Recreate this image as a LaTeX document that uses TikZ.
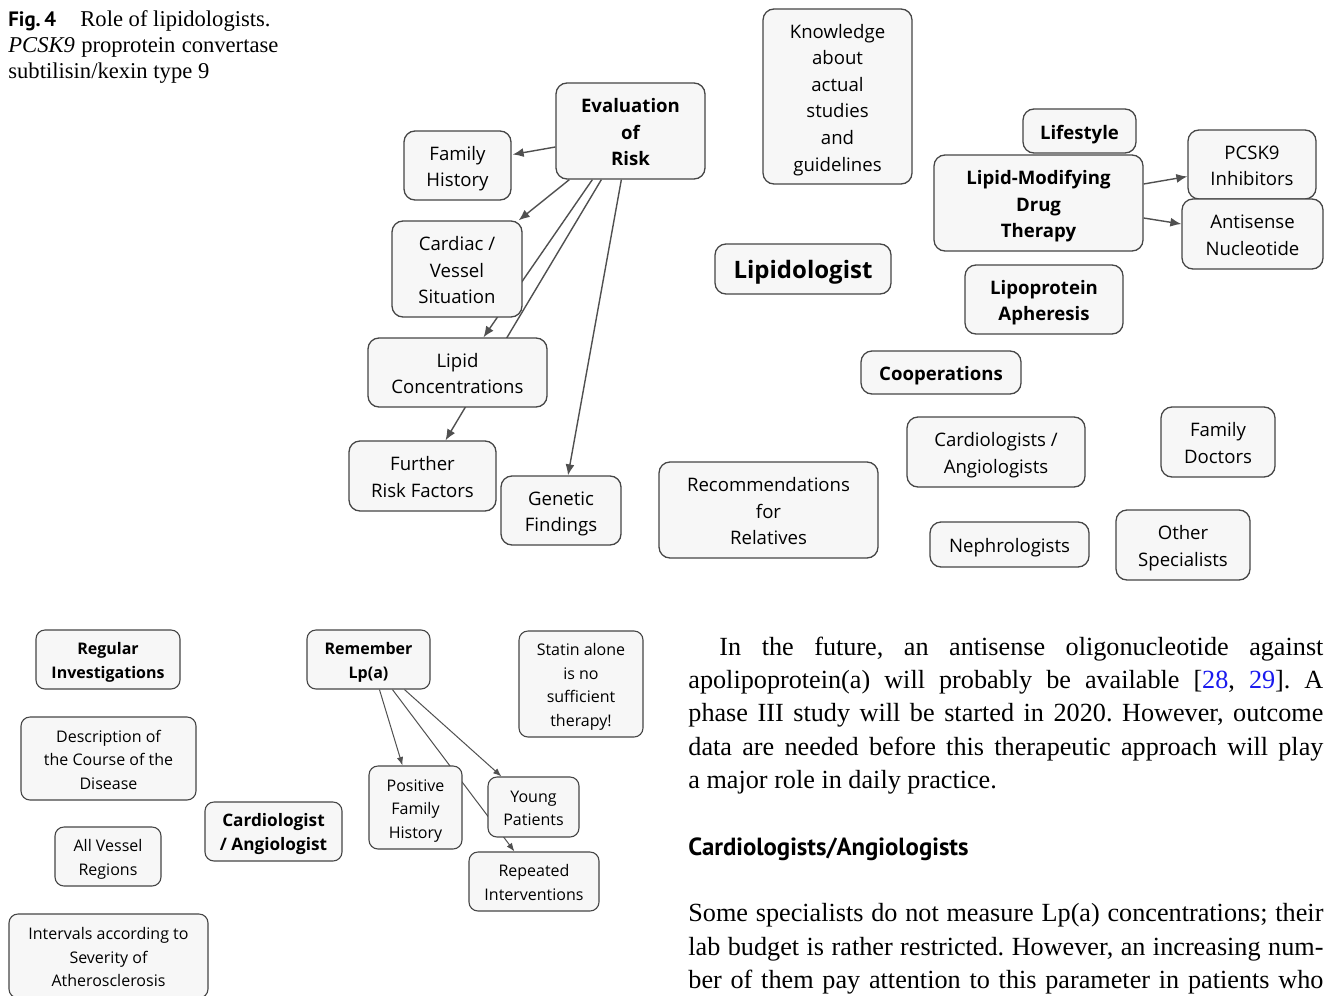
\documentclass[tikz,border=0pt]{standalone}
\usepackage{fontspec}
\setmainfont{Liberation Serif}
\newfontfamily\bxfont{Open Sans}
\newfontfamily\hdfont{PT Sans}
\usetikzlibrary{arrows.meta,backgrounds}
\definecolor{boxbg}{HTML}{F7F7F7}
\definecolor{boxbd}{HTML}{464646}
\definecolor{edgec}{HTML}{505050}
\definecolor{citeblue}{HTML}{1A1AEE}
\frenchspacing
\newcommand\bt[1]{\raisebox{-1.35pt}[\height][\depth]{\begin{tabular}{@{}c@{}}#1\end{tabular}}}
\newcommand\bs[1]{\raisebox{-1.25pt}[\height][\depth]{\begin{tabular}{@{}c@{}}#1\end{tabular}}}
\newcommand\bl[1]{\raisebox{-1.8pt}[\height][\depth]{\begin{tabular}{@{}c@{}}#1\end{tabular}}}
\tikzset{
  box/.style={draw=boxbd, fill=boxbg, rounded corners=5.5pt, line width=0.65pt,
    inner sep=0pt, font=\bxfont\fontsize{9.3}{13.3}\selectfont},
  sbox/.style={box, rounded corners=4.5pt, line width=0.55pt,
    font=\bxfont\fontsize{8}{11.75}\selectfont},
  bbox/.style={box, font=\bxfont\bfseries\fontsize{9.3}{13.3}\selectfont},
  sbbox/.style={sbox, font=\bxfont\bfseries\fontsize{8}{11.75}\selectfont},
  arr/.style={draw=edgec, line width=0.7pt, -{Latex[length=5.5pt,width=4.5pt]}},
  sarr/.style={draw=edgec, line width=0.5pt, -{Latex[length=4.2pt,width=3.2pt]}},
  bodyline/.style={anchor=base west, inner sep=0pt, font=\fontsize{13.1}{16.5}\selectfont},
  capline/.style={anchor=base west, inner sep=0pt, font=\fontsize{11.3}{13}\selectfont},
}
\begin{document}
\begin{tikzpicture}[x=0.5pt,y=-0.5pt]
\useasboundingbox (0,0) rectangle (1326,995);
\clip (0,0) rectangle (1326,995);

% caption
\node[capline] (figlab) at (8,26.5) {\hdfont\bfseries\fontsize{10.4}{13}\selectfont Fig.\,4};
\node[capline] (cap1) at (80,26.5) {Role of lipidologists.};
\node[capline] (cap2) at (8,52.5) {\makebox[135pt][s]{\textit{PCSK9} proprotein convertase}};
\node[capline] (cap3) at (8,78.5) {subtilisin/kexin type 9};

% top diagram
\node[bbox, minimum width=74.5pt, minimum height=48pt] (eval) at (630.5,131) {\bt{Evaluation\\of\\Risk}};
\node[box, minimum width=53.5pt, minimum height=34.5pt] (fh) at (457.5,165.5) {\bt{Family\\History}};
\node[box, minimum width=65pt, minimum height=48pt] (card) at (457,269) {\bt{Cardiac /\\Vessel\\Situation}};
\node[box, minimum width=89.5pt, minimum height=34.5pt] (lipid) at (457.5,372.5) {\bt{Lipid\\Concentrations}};
\node[box, minimum width=73.5pt, minimum height=35pt] (further) at (422.5,476) {\bt{Further\\Risk Factors}};
\node[box, minimum width=60pt, minimum height=34.5pt] (genetic) at (561,510.5) {\bt{Genetic\\Findings}};
\node[box, minimum width=74.5pt, minimum height=87.5pt] (know) at (837.5,96.5) {\bt{Knowledge\\about\\actual\\studies\\and\\guidelines}};
\node[box, minimum width=88pt, minimum height=25pt, font=\bxfont\bfseries\fontsize{12}{14}\selectfont] (lipidologist) at (803,269) {\bl{Lipidologist}};
\node[bbox, minimum width=56.5pt, minimum height=22pt] (lifestyle) at (1079.5,131) {\bt{Lifestyle}};
\node[bbox, minimum width=104.5pt, minimum height=48pt] (lmdt) at (1038.5,203) {\bt{Lipid-Modifying\\Drug\\Therapy}};
\node[box, minimum width=64pt, minimum height=34.5pt] (pcsk) at (1252,164.5) {\bt{PCSK9\\Inhibitors}};
\node[box, minimum width=70.5pt, minimum height=35pt] (antisense) at (1252.5,234) {\bt{Antisense\\Nucleotide}};
\node[bbox, minimum width=79pt, minimum height=34.5pt] (apheresis) at (1044,299.5) {\bt{Lipoprotein\\Apheresis}};
\node[bbox, minimum width=80pt, minimum height=21.5pt] (coop) at (941,372.5) {\bt{Cooperations}};
\node[box, minimum width=89pt, minimum height=35pt] (cardang) at (996,452) {\bt{Cardiologists /\\Angiologists}};
\node[box, minimum width=57pt, minimum height=35pt] (famdoc) at (1218,442) {\bt{Family\\Doctors}};
\node[box, minimum width=109.5pt, minimum height=48pt] (recom) at (768.5,510) {\bt{Recommendations\\for\\Relatives}};
\node[box, minimum width=79.5pt, minimum height=22.5pt] (nephro) at (1009.5,544.5) {\bt{Nephrologists}};
\node[box, minimum width=67pt, minimum height=35pt] (other) at (1183,545) {\bt{Other\\Specialists}};

% bottom diagram
\node[sbbox, minimum width=72pt, minimum height=29.5pt] (regular) at (108,659.5) {\bs{Regular\\Investigations}};
\node[sbox, minimum width=87.5pt, minimum height=41.5pt] (descr) at (108.5,758.5) {\bs{Description of\\the Course of the\\Disease}};
\node[sbox, minimum width=53pt, minimum height=29.5pt] (allvessel) at (108,856.5) {\bs{All Vessel\\Regions}};
\node[sbox, minimum width=99.5pt, minimum height=42pt] (intervals) at (108.5,956) {\bs{Intervals according to\\Severity of\\Atherosclerosis}};
\node[sbbox, minimum width=68.5pt, minimum height=29.5pt, font=\bxfont\bfseries\fontsize{8.6}{12}\selectfont] (cardio) at (273.5,831.5) {\bs{Cardiologist\\/ Angiologist}};
\node[sbbox, minimum width=61.5pt, minimum height=29.5pt] (remember) at (368.5,659.5) {\bs{Remember\\Lp(a)}};
\node[sbox, minimum width=62pt, minimum height=53pt] (statin) at (581,684) {\bs{Statin alone\\is no\\sufficient\\therapy!}};
\node[sbox, minimum width=46.5pt, minimum height=41.5pt] (pfh) at (415.5,807.5) {\bs{Positive\\Family\\History}};
\node[sbox, minimum width=45.5pt, minimum height=30pt] (young) at (533.5,807) {\bs{Young\\Patients}};
\node[sbox, minimum width=65pt, minimum height=29.5pt] (repeated) at (534,881.5) {\bs{Repeated\\Interventions}};

% connectors (behind boxes)
\begin{pgfonlayer}{background}
\fill[white] (0,0) rectangle (1326,995);
\draw[arr] ([shift={(0,16)}]eval.west) -- ([shift={(1,-11)}]fh.east);
\draw[arr] ([shift={(14,0)}]eval.south west) -- ([shift={(-4,0)}]card.north east);
\draw[arr] ([shift={(37,0)}]eval.south west) -- ([shift={(26,0)}]lipid.north);
\draw[arr] ([shift={(46,0)}]eval.south west) -- ([shift={(23,0)}]further.north);
\draw[arr] ([shift={(66,0)}]eval.south west) -- ([shift={(7,0)}]genetic.north);
\draw[arr] ([shift={(0,-19)}]lmdt.east) -- ([shift={(0,12)}]pcsk.west);
\draw[arr] ([shift={(0,15)}]lmdt.east) -- ([shift={(0,-10)}]antisense.west);
\draw[sarr] ([shift={(73,0)}]remember.south west) -- ([shift={(34,0)}]pfh.north west);
\draw[sarr] ([shift={(86,0)}]remember.south west) -- ([shift={(46,0)}]repeated.north west);
\draw[sarr] ([shift={(98,0)}]remember.south west) -- ([shift={(14,0)}]young.north west);
\end{pgfonlayer}

% body text
\node[bodyline] (b1) at (719,655.7) {\makebox[302pt][s]{In the future, an antisense oligonucleotide against}};
\node[bodyline] (b2) at (688,688.5) {\makebox[317.5pt][s]{apolipoprotein(a) will probably be available [\textcolor{citeblue}{28}, \textcolor{citeblue}{29}]. A}};
\node[bodyline] (b3) at (688,721.8) {\makebox[317.5pt][s]{phase III study will be started in 2020. However, outcome}};
\node[bodyline] (b4) at (688,755) {\makebox[317.5pt][s]{data are needed before this therapeutic approach will play}};
\node[bodyline] (b5) at (688,788.3) {a major role in daily practice.};
\node[anchor=base west, inner sep=0pt, font=\hdfont\bfseries\fontsize{12.4}{15}\selectfont] (head) at (688,855) {Cardiologists/Angiologists};
\node[bodyline] (b6) at (688,921.7) {\makebox[317.5pt][s]{Some specialists do not measure Lp(a) concentrations; their}};
\node[bodyline] (b7) at (688,955) {\makebox[317.5pt][s]{lab budget is rather restricted. However, an increasing num-}};
\node[bodyline] (b8) at (688,988.3) {\makebox[317.5pt][s]{ber of them pay attention to this parameter in patients who}};
\end{tikzpicture}
\end{document}
